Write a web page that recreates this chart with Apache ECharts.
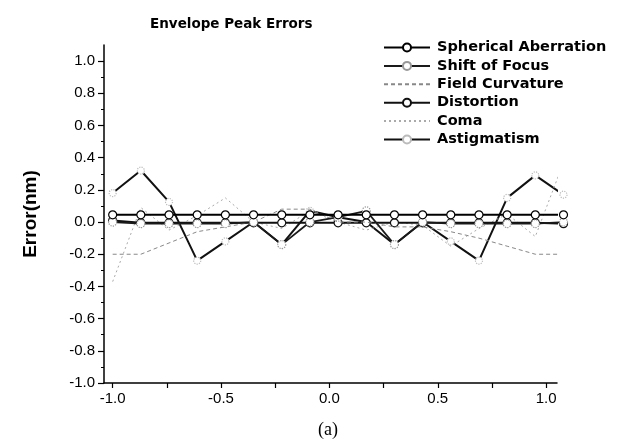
<!DOCTYPE html>
<html>
<head>
<meta charset="utf-8">
<script src="https://cdn.jsdelivr.net/npm/echarts@6/dist/echarts.min.js"></script>
<style>
  html, body { margin: 0; padding: 0; background: #fff; }
  #chart { width: 630px; height: 444px; }
</style>
</head>
<body>
<div id="chart"></div>
<script>
// Field positions (x)
const fieldX = [-1.0, -0.87, -0.74, -0.61, -0.48, -0.35, -0.22, -0.09, 0.04, 0.17, 0.30, 0.43, 0.56, 0.69, 0.82, 0.95, 1.08];

const sphericalAberration = [0.045, 0.045, 0.045, 0.045, 0.045, 0.045, 0.045, 0.045, 0.045, 0.045, 0.045, 0.045, 0.045, 0.045, 0.045, 0.045, 0.045];
const shiftOfFocus = [0.0, -0.01, -0.01, -0.01, -0.01, 0.0, -0.14, 0.0, 0.03, 0.07, -0.14, 0.0, -0.01, -0.01, -0.01, -0.01, 0.0];
const fieldCurvature = [-0.2, -0.2, -0.13, -0.06, -0.03, 0.0, 0.08, 0.08, 0.0, 0.0, -0.03, -0.03, -0.06, -0.1, -0.15, -0.2, -0.2];
const distortion = [0.01, -0.005, -0.005, -0.005, -0.005, -0.005, -0.005, -0.005, -0.005, -0.005, -0.005, -0.005, -0.005, -0.005, -0.005, -0.005, -0.01];
const coma = [-0.37, 0.09, -0.05, 0.04, 0.15, 0.0, -0.04, 0.07, 0.0, -0.05, 0.0, -0.02, -0.15, -0.04, 0.05, -0.09, 0.37];
const astigmatism = [0.18, 0.32, 0.125, -0.24, -0.12, 0.0, -0.14, 0.07, 0.03, 0.0, -0.14, 0.0, -0.12, -0.24, 0.15, 0.29, 0.17];

const seriesNames = ['Spherical Aberration', 'Shift of Focus', 'Field Curvature', 'Distortion', 'Coma', 'Astigmatism'];
const xTickValues = [-1.0, -0.75, -0.5, -0.25, 0.0, 0.25, 0.5, 0.75, 1.0];
const xLabelValues = [-1.0, -0.5, 0.0, 0.5, 1.0];
const yLabelValues = [-1.0, -0.8, -0.6, -0.4, -0.2, 0.0, 0.2, 0.4, 0.6, 0.8, 1.0];
const yMinorValues = [-0.9, -0.7, -0.5, -0.3, -0.1, 0.1, 0.3, 0.5, 0.7, 0.9];

const pair = arr => fieldX.map((x, i) => [x, arr[i]]);

const styles = [
  { data: sphericalAberration, color: '#000', width: 2, type: 'solid', sym: 'circle', symSize: 8, symBorder: '#000', symType: 'solid' },
  { data: shiftOfFocus, color: '#1a1a1a', width: 1.8, type: 'solid', sym: 'circle', symSize: 8, symBorder: '#999', symType: 'dotted' },
  { data: fieldCurvature, color: '#888', width: 1, type: [4, 3], sym: 'none', symSize: 0, symBorder: '#aaa', symType: 'solid' },
  { data: distortion, color: '#111', width: 2, type: 'solid', sym: 'circle', symSize: 8, symBorder: '#111', symType: 'solid' },
  { data: coma, color: '#aaa', width: 1, type: [2, 3], sym: 'none', symSize: 0, symBorder: '#ccc', symType: 'solid' },
  { data: astigmatism, color: '#111', width: 2, type: 'solid', sym: 'circle', symSize: 7, symBorder: '#bbb', symType: 'dotted' }
];

const series = styles.map((s, i) => ({
  name: seriesNames[i],
  type: 'line',
  xAxisIndex: 0,
  yAxisIndex: 0,
  data: pair(s.data),
  clip: false,
  symbol: s.sym,
  symbolSize: s.symSize,
  showAllSymbol: true,
  lineStyle: { color: s.color, width: s.width, type: s.type },
  itemStyle: { color: '#fff', borderColor: s.symBorder, borderWidth: 1.2, borderType: s.symType },
  emphasis: { disabled: true },
  animation: false,
  z: 10 - i
}));

const legendData = seriesNames.map((n, i) => styles[i].sym === 'none'
  ? { name: n, itemStyle: { opacity: 0 } }
  : { name: n });

const chart = echarts.init(document.getElementById('chart'), null, { renderer: 'canvas' });
const axisFont = { fontFamily: 'Liberation Sans, Arial, sans-serif', fontSize: 15, color: '#000' };

chart.setOption({
  animation: false,
  backgroundColor: '#fff',
  title: {
    text: 'Envelope Peak Errors',
    left: 145, top: 12,
    textStyle: { fontFamily: 'DejaVu Sans, sans-serif', fontWeight: 'bold', fontSize: 13.5, color: '#000' }
  },
  legend: {
    orient: 'vertical',
    left: 378, top: 35,
    itemWidth: 46, itemHeight: 10, itemGap: 3.4,
    data: legendData,
    textStyle: { fontFamily: 'DejaVu Sans, sans-serif', fontWeight: 'bold', fontSize: 14.5, lineHeight: 14, color: '#000', padding: [0, 0, 0, 2] },
    selectedMode: false
  },
  grid: { left: 104, right: 73, top: 45, bottom: 61, containLabel: false },
  xAxis: [{
    type: 'value', min: -1.04, max: 1.05,
    axisLine: { onZero: false, lineStyle: { color: '#000', width: 1.5 } },
    axisTick: { customValues: xTickValues, length: 5, inside: false, lineStyle: { color: '#000', width: 1.2 } },
    axisLabel: { customValues: xLabelValues, formatter: v => v.toFixed(1), margin: 8, ...axisFont },
    splitLine: { show: false }
  }],
  yAxis: [{
    type: 'value', min: -1.0, max: 1.1,
    axisLine: { onZero: false, lineStyle: { color: '#000', width: 1.5 } },
    axisTick: { customValues: yLabelValues, length: 6, lineStyle: { color: '#000', width: 1.2 } },
    axisLabel: { customValues: yLabelValues, formatter: v => v.toFixed(1), margin: 9, ...axisFont },
    splitLine: { show: false },
    name: 'Error(nm)', nameLocation: 'middle', nameGap: 64, nameRotate: 90,
    nameTextStyle: { fontFamily: 'Liberation Sans, Arial, sans-serif', fontWeight: 'bold', fontSize: 19, color: '#000' }
  }, {
    type: 'value', min: -1.0, max: 1.1, position: 'left',
    axisLine: { show: false, onZero: false },
    axisTick: { customValues: yMinorValues, length: 3, lineStyle: { color: '#000', width: 1 } },
    axisLabel: { show: false },
    splitLine: { show: false }
  }],
  graphic: [{
    type: 'text', left: 318, top: 421,
    style: { text: '(a)', font: '18px "Liberation Serif", "Times New Roman", serif', fill: '#000' }
  }],
  series: series
});
</script>
</body>
</html>
